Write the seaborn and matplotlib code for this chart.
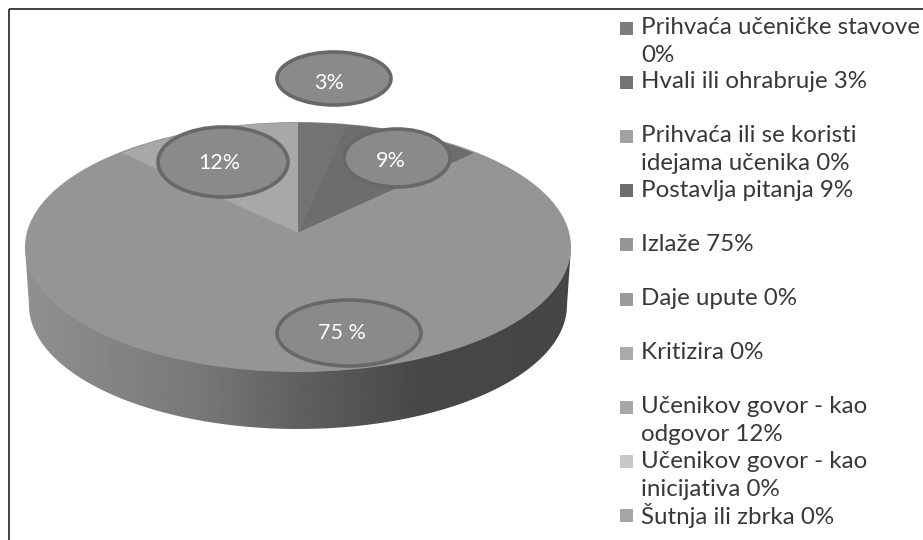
import numpy as np
import seaborn as sns
import matplotlib
matplotlib.use("Agg")
import matplotlib.pyplot as plt
from matplotlib.patches import Ellipse, Polygon, Rectangle

# Data
categories = [
    "Prihvaća učeničke stavove\n0%",
    "Hvali ili ohrabruje 3%",
    "Prihvaća ili se koristi\nidejama učenika 0%",
    "Postavlja pitanja 9%",
    "Izlaže 75%",
    "Daje upute 0%",
    "Kritizira 0%",
    "Učenikov govor - kao\nodgovor 12%",
    "Učenikov govor - kao\ninicijativa 0%",
    "Šutnja ili zbrka 0%",
]
values = [0, 3, 0, 9, 75, 0, 0, 12, 0, 0]
colors = ["#7c7c7c", "#737373", "#a2a2a2", "#6d6d6d", "#959595",
          "#9b9b9b", "#aaaaaa", "#a8a8a8", "#c8c8c8", "#a5a5a5"]
bubble_labels = ["3%", "9%", "75 %", "12%"]
bubble_cx = [334, 397, 349, 223]
bubble_cy = [78.5, 158, 333, 162]
bubble_rx = [57, 53, 72, 65]
bubble_ry = [26.5, 29, 33, 35]
label_x = [329, 391, 342, 219]
label_y = [83, 161, 333, 163]

W, H = 923, 540
sns.set_theme(style="white")
plt.rcParams["font.family"] = ["Lato", "DejaVu Sans"]

fig = plt.figure(figsize=(W / 100, H / 100), dpi=100)

# background axes in pixel coordinates
ax = fig.add_axes([0, 0, 1, 1], zorder=1)
ax.set_xlim(0, W)
ax.set_ylim(H, 0)
ax.axis("off")

# chart frame, runs off the right and bottom of the image
ax.add_patch(Rectangle((9, 8.5), W, H, fill=False, ec="#404040", lw=1.4))

# side of the 3d pie, gradient clipped to the outline
cx, cy, rx, ry = 298, 247, 273, 125
t = np.linspace(0, np.pi, 200)
side_x = cx + 269 * np.cos(t)
side_y = 305 + 124 * np.sin(t)
outline = np.vstack([[cx + rx, cy], np.column_stack([side_x, side_y]), [cx - rx, cy]])
side = Polygon(outline, closed=True, fc="none", ec="none")
ax.add_patch(side)
stops_x = [25, 200, 300, 420, 571]
stops_v = [0x90, 0x78, 0x60, 0x47, 0x45]
grad = np.interp(np.arange(25, 572), stops_x, stops_v)[None, :]
im = ax.imshow(grad, extent=(25, 571, H, 0), cmap="gray", vmin=0, vmax=255, aspect="auto")
im.set_clip_path(side)
ax.set_xlim(0, W)
ax.set_ylim(H, 0)

# top surface outline, same grey as the big slice
ax.add_patch(Ellipse((cx, cy), 2 * rx, 2 * ry, fc=colors[4], ec="none"))

# slices, apex sits above the middle of the ellipse because of the perspective
apex_y, pie_rx, pie_ry = 232.7, 255, 110
ax_pie = fig.add_axes([(cx - pie_rx) / W, 1 - (apex_y + pie_ry) / H, 2 * pie_rx / W, 2 * pie_ry / H], zorder=2)
ax_pie.pie(values, colors=colors, startangle=90, counterclock=False, radius=1,
           wedgeprops={"linewidth": 0})
ax_pie.set_aspect("auto")
ax_pie.set_xlim(-1, 1)
ax_pie.set_ylim(-1, 1)

# labels and legend on top
ax_top = fig.add_axes([0, 0, 1, 1], zorder=3)
ax_top.set_xlim(0, W)
ax_top.set_ylim(H, 0)
ax_top.axis("off")
ax_top.patch.set_alpha(0)

for lab, x, y, a, b, tx, ty in zip(bubble_labels, bubble_cx, bubble_cy, bubble_rx, bubble_ry, label_x, label_y):
    ax_top.add_patch(Ellipse((x, y), 2 * a, 2 * b, fc="#8a8a8a", ec="#686868", lw=2.6))
    ax_top.text(tx, ty, lab, color="white", fontsize=15.5, ha="center", va="center")

for i, (lab, col) in enumerate(zip(categories, colors)):
    y = 28 + i * 54.2
    ax_top.add_patch(Rectangle((620, y - 6.5), 13, 13, fc=col, ec="none"))
    ax_top.text(641, y - 0.5, lab.split("\n")[0], color="#383838", fontsize=17.4, va="center")
    if "\n" in lab:
        ax_top.text(641, y + 27.5, lab.split("\n")[1], color="#383838", fontsize=17.4, va="center")

fig.savefig("out.png", dpi=100)
